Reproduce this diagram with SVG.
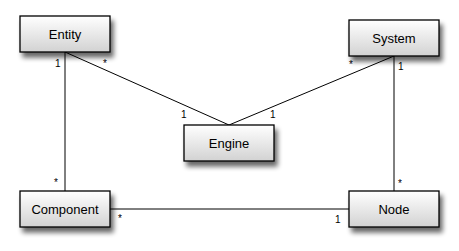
<svg xmlns="http://www.w3.org/2000/svg" width="459" height="251" viewBox="0 0 459 251">
<defs>
<linearGradient id="g" x1="0" y1="0" x2="0" y2="1">
<stop offset="0" stop-color="#ffffff"/>
<stop offset="1" stop-color="#d2d2d2"/>
</linearGradient>
<filter id="sh" x="-20%" y="-30%" width="150%" height="190%">
<feGaussianBlur in="SourceAlpha" stdDeviation="2.5"/>
<feOffset dx="3" dy="5" result="b"/>
<feComponentTransfer><feFuncA type="linear" slope="0.6"/></feComponentTransfer>
<feMerge><feMergeNode/><feMergeNode in="SourceGraphic"/></feMerge>
</filter>
</defs>
<style>
.box{fill:url(#g);stroke:#000;stroke-width:1.3;filter:url(#sh)}
.t{font-family:"Liberation Sans",Arial,sans-serif;font-size:13px;text-anchor:middle;fill:#000}
.m{font-family:"Liberation Sans",Arial,sans-serif;font-size:10px;fill:#000}
.c{stroke:#000;stroke-width:1;fill:none}
</style>
<g id="connectors">
<line class="c" x1="65" y1="52" x2="229" y2="125"/>
<line class="c" x1="394" y1="56" x2="229" y2="125"/>
<line class="c" x1="65" y1="52" x2="65" y2="191"/>
<line class="c" x1="394" y1="56" x2="394" y2="191"/>
<line class="c" x1="110" y1="209" x2="349" y2="209"/>
<text class="m" x="55" y="67">1</text>
<text class="m" x="103" y="67">*</text>
<text class="m" x="349" y="68">*</text>
<text class="m" x="398" y="70">1</text>
<text class="m" x="181" y="118">1</text>
<text class="m" x="270" y="118">1</text>
<text class="m" x="54" y="186">*</text>
<text class="m" x="118" y="222">*</text>
<text class="m" x="398" y="187">*</text>
<text class="m" x="335" y="223">1</text>
</g>
<g id="entity"><rect class="box" x="20" y="16" width="90" height="36"/><text class="t" x="65" y="39">Entity</text></g>
<g id="system"><rect class="box" x="349" y="20" width="90" height="36"/><text class="t" x="394" y="43">System</text></g>
<g id="engine"><rect class="box" x="184" y="125" width="90" height="36"/><text class="t" x="229" y="148">Engine</text></g>
<g id="component"><rect class="box" x="20" y="191" width="90" height="36"/><text class="t" x="65" y="214">Component</text></g>
<g id="node"><rect class="box" x="349" y="191" width="90" height="36"/><text class="t" x="394" y="214">Node</text></g>
</svg>
